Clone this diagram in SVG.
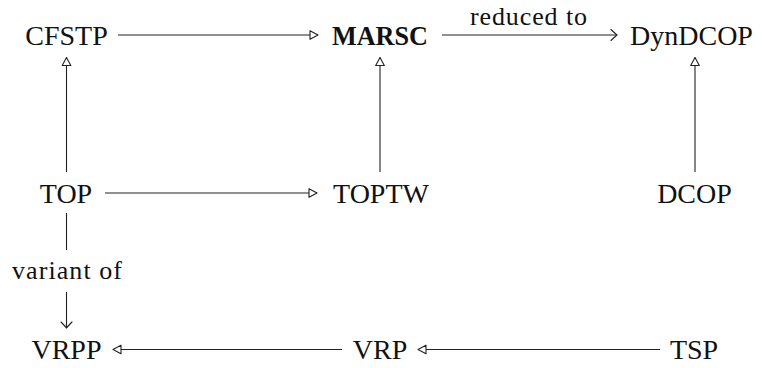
<svg xmlns="http://www.w3.org/2000/svg" width="762" height="368" viewBox="0 0 762 368">
  <style>
    .node { font-family: "Liberation Serif", "Times New Roman", serif; font-size: 28px; fill: #111; text-anchor: middle; }
    .bold { font-weight: bold; }
    .label { font-family: "Liberation Serif", "Times New Roman", serif; font-size: 26px; fill: #111; text-anchor: middle; }
    .edge { stroke: #222; stroke-width: 1.1; fill: none; }
    .open { marker-end: url(#tri); }
    .to { marker-end: url(#to); }
  </style>
  <defs>
    <!-- hollow triangle head -->
    <marker id="tri" markerUnits="userSpaceOnUse" markerWidth="12" markerHeight="12" refX="0" refY="0" orient="auto" overflow="visible">
      <path d="M-8,-4.3 L0,0 L-8,4.3 Z" fill="#fff" stroke="#222" stroke-width="1.1" stroke-linejoin="round"/>
    </marker>
    <!-- curved "to" head -->
    <marker id="to" markerUnits="userSpaceOnUse" markerWidth="12" markerHeight="12" refX="0" refY="0" orient="auto" overflow="visible">
      <path d="M-6,-5.5 Q-1.5,-1.2 0,0 Q-1.5,1.2 -6,5.5" fill="none" stroke="#222" stroke-width="1.1" stroke-linecap="round"/>
    </marker>
  </defs>

  <g id="connectors">
    <line class="edge open" x1="118" y1="35" x2="318" y2="35"/>
    <line class="edge to" x1="442" y1="35" x2="617" y2="35"/>
    <text class="label" x="528.5" y="25" textLength="117" lengthAdjust="spacing">reduced to</text>
    <line class="edge open" x1="66.5" y1="172" x2="66.5" y2="57.5"/>
    <line class="edge open" x1="380" y1="172" x2="380" y2="57.5"/>
    <line class="edge open" x1="695" y1="172" x2="695" y2="57.5"/>
    <line class="edge open" x1="105" y1="193" x2="317" y2="193"/>
    <line class="edge" x1="66.5" y1="213" x2="66.5" y2="250"/>
    <text class="label" x="67" y="279" textLength="110" lengthAdjust="spacing">variant of</text>
    <line class="edge to" x1="66.5" y1="292" x2="66.5" y2="328"/>
    <line class="edge open" x1="342" y1="349.5" x2="113" y2="349.5"/>
    <line class="edge open" x1="660" y1="349.5" x2="418" y2="349.5"/>
  </g>

  <g id="CFSTP"><text class="node" x="66.5" y="45">CFSTP</text></g>
  <g id="MARSC"><text class="node bold" x="380" y="45" textLength="96" lengthAdjust="spacingAndGlyphs">MARSC</text></g>
  <g id="DynDCOP"><text class="node" x="691.5" y="45">DynDCOP</text></g>
  <g id="TOP"><text class="node" x="66" y="202.5">TOP</text></g>
  <g id="TOPTW"><text class="node" x="381" y="202.5">TOPTW</text></g>
  <g id="DCOP"><text class="node" x="694.5" y="202.5">DCOP</text></g>
  <g id="VRPP"><text class="node" x="66.5" y="359">VRPP</text></g>
  <g id="VRP"><text class="node" x="380" y="359">VRP</text></g>
  <g id="TSP"><text class="node" x="694" y="359">TSP</text></g>
</svg>
